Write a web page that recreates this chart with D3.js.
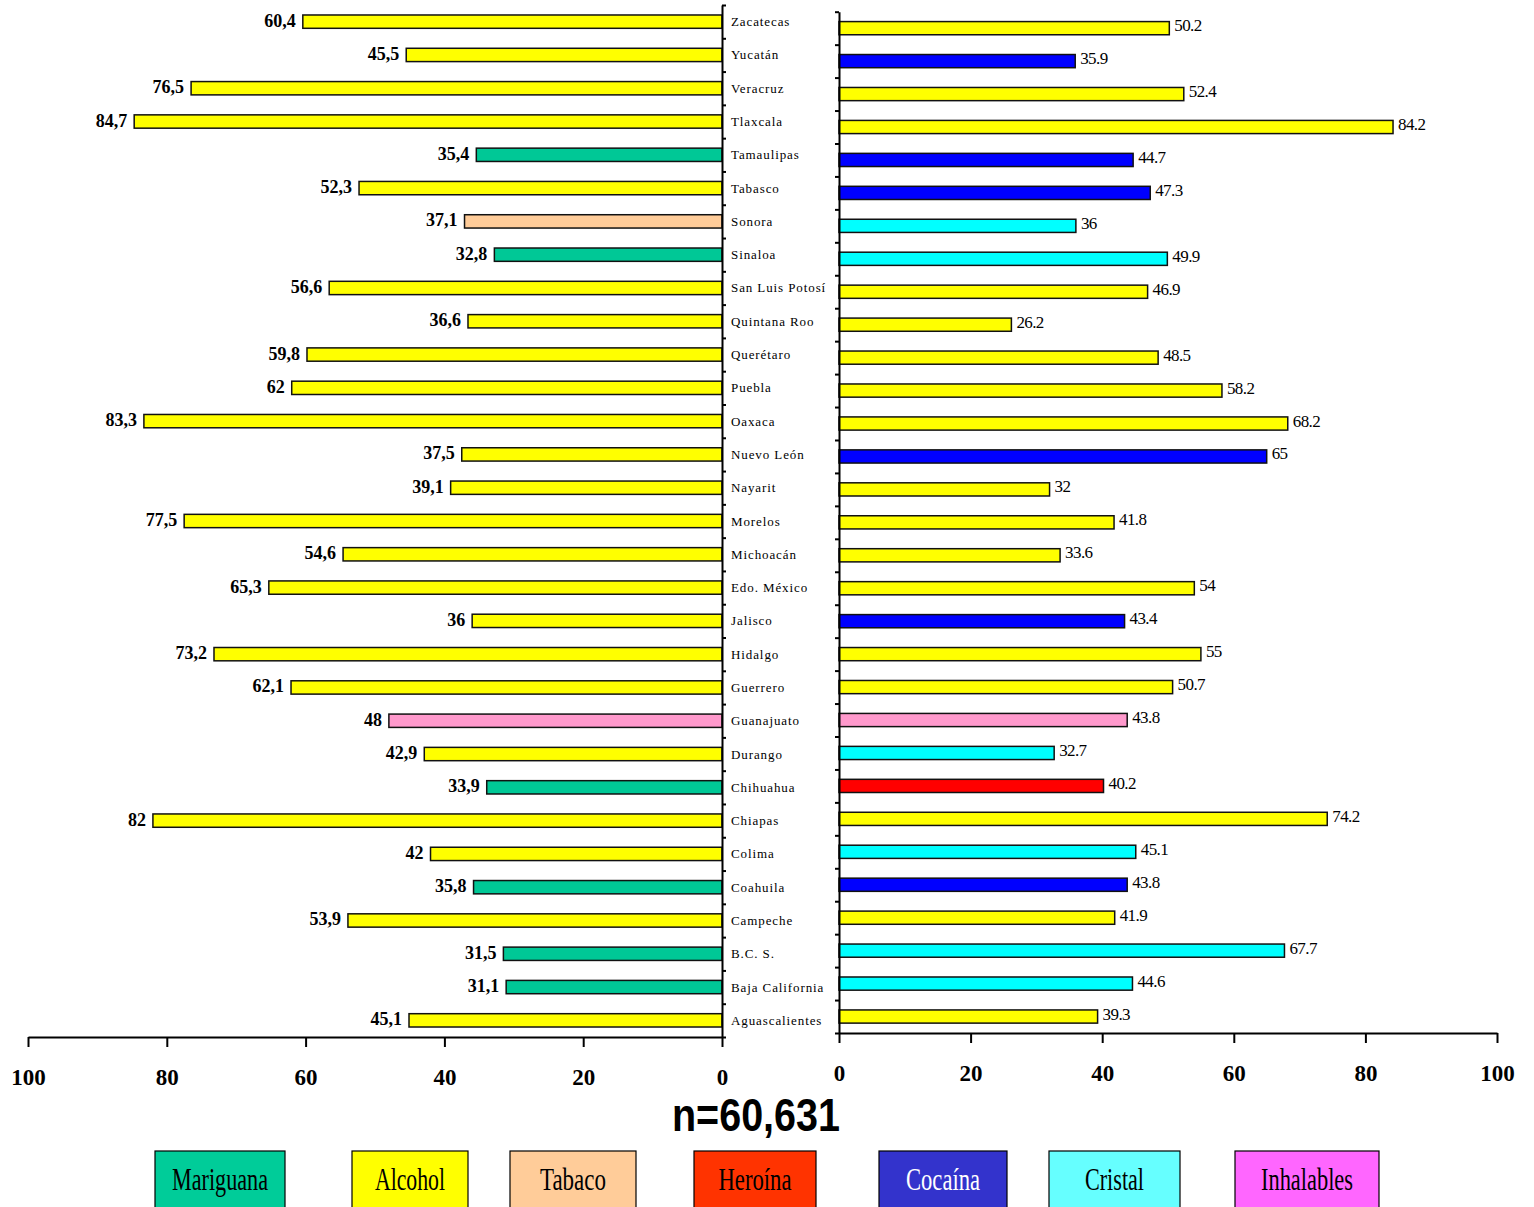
<!DOCTYPE html>
<html>
<head>
<meta charset="utf-8">
<script src="https://cdn.jsdelivr.net/npm/d3@7"></script>
<style>
  html, body { margin: 0; padding: 0; background: #fff; }
  svg { display: block; }
</style>
</head>
<body>
<svg id="chart" width="1534" height="1207"></svg>
<script>
// States, top to bottom
const states = ["Zacatecas", "Yucatán", "Veracruz", "Tlaxcala", "Tamaulipas", "Tabasco",
  "Sonora", "Sinaloa", "San Luis Potosí", "Quintana Roo", "Querétaro", "Puebla", "Oaxaca",
  "Nuevo León", "Nayarit", "Morelos", "Michoacán", "Edo. México", "Jalisco", "Hidalgo",
  "Guerrero", "Guanajuato", "Durango", "Chihuahua", "Chiapas", "Colima", "Coahuila",
  "Campeche", "B.C. S.", "Baja California", "Aguascalientes"];

// Left panel: percentage and substance
const leftValues = [60.4, 45.5, 76.5, 84.7, 35.4, 52.3, 37.1, 32.8, 56.6, 36.6, 59.8, 62, 83.3,
  37.5, 39.1, 77.5, 54.6, 65.3, 36, 73.2, 62.1, 48, 42.9, 33.9, 82, 42, 35.8, 53.9, 31.5, 31.1, 45.1];
const leftDrug = ["Alcohol", "Alcohol", "Alcohol", "Alcohol", "Mariguana", "Alcohol", "Tabaco",
  "Mariguana", "Alcohol", "Alcohol", "Alcohol", "Alcohol", "Alcohol", "Alcohol", "Alcohol",
  "Alcohol", "Alcohol", "Alcohol", "Alcohol", "Alcohol", "Alcohol", "Inhalables", "Alcohol",
  "Mariguana", "Alcohol", "Alcohol", "Mariguana", "Alcohol", "Mariguana", "Mariguana", "Alcohol"];

// Right panel: percentage and substance
const rightValues = [50.2, 35.9, 52.4, 84.2, 44.7, 47.3, 36, 49.9, 46.9, 26.2, 48.5, 58.2, 68.2,
  65, 32, 41.8, 33.6, 54, 43.4, 55, 50.7, 43.8, 32.7, 40.2, 74.2, 45.1, 43.8, 41.9, 67.7, 44.6, 39.3];
const rightDrug = ["Alcohol", "Cocaína", "Alcohol", "Alcohol", "Cocaína", "Cocaína", "Cristal",
  "Cristal", "Alcohol", "Alcohol", "Alcohol", "Alcohol", "Alcohol", "Cocaína", "Alcohol",
  "Alcohol", "Alcohol", "Alcohol", "Cocaína", "Alcohol", "Alcohol", "Inhalables", "Cristal",
  "Heroína", "Alcohol", "Cristal", "Cocaína", "Alcohol", "Cristal", "Cristal", "Alcohol"];

const axisTicks = [0, 20, 40, 60, 80, 100];

// Legend entries
const legendNames = ["Mariguana", "Alcohol", "Tabaco", "Heroína", "Cocaína", "Cristal", "Inhalables"];
const legendColors = ["#00CC99", "#FFFF00", "#FFCC99", "#FF3300", "#3333CC", "#66FFFF", "#FF66FF"];
const legendTextColors = ["#000", "#000", "#000", "#000", "#fff", "#000", "#000"];

const sampleLabel = "n=60,631";

// Bar fill colours by substance
const barColor = {
  "Alcohol": "#FFFF00", "Mariguana": "#00C896", "Tabaco": "#FFCC99", "Inhalables": "#FF99CC",
  "Cocaína": "#0000FF", "Cristal": "#00FFFF", "Heroína": "#FF0000"
};

const svg = d3.select("#chart");
const serif = "'Liberation Serif', 'Times New Roman', serif";

// ---------- scales ----------
const xL = d3.scaleLinear().domain([0, 100]).range([722, 28]);
const xR = d3.scaleLinear().domain([0, 100]).range([839, 1497]);
const yL = d3.scaleBand().domain(states).range([5, 1037]).paddingInner(0.6).paddingOuter(0.3);
const yR = d3.scaleBand().domain(states).range([11.7, 1033]).paddingInner(0.6).paddingOuter(0.3);
const boundL = d3.scaleLinear().domain([0, states.length]).range([5, 1037]);
const boundR = d3.scaleLinear().domain([0, states.length]).range([11.7, 1033]);

const rowsL = states.map((s, i) => ({ s, v: leftValues[i], d: leftDrug[i] }));
const rowsR = states.map((s, i) => ({ s, v: rightValues[i], d: rightDrug[i] }));

// ---------- left panel bars ----------
svg.append("g").selectAll("rect").data(rowsL).join("rect")
  .attr("x", d => xL(d.v))
  .attr("y", d => yL(d.s))
  .attr("width", d => xL(0) - xL(d.v))
  .attr("height", yL.bandwidth())
  .attr("fill", d => barColor[d.d])
  .attr("stroke", "#111").attr("stroke-width", 1.5);

svg.append("g").selectAll("text").data(rowsL).join("text")
  .attr("x", d => xL(d.v) - 7)
  .attr("y", d => yL(d.s) + yL.bandwidth() / 2 + 5)
  .attr("text-anchor", "end")
  .attr("font-family", serif).attr("font-weight", "bold").attr("font-size", 18)
  .text(d => String(d.v).replace(".", ","));

// ---------- right panel bars ----------
svg.append("g").selectAll("rect").data(rowsR).join("rect")
  .attr("x", xR(0))
  .attr("y", d => yR(d.s))
  .attr("width", d => xR(d.v) - xR(0))
  .attr("height", yR.bandwidth())
  .attr("fill", d => barColor[d.d])
  .attr("stroke", "#111").attr("stroke-width", 1.5);

svg.append("g").selectAll("text").data(rowsR).join("text")
  .attr("x", d => xR(d.v) + 5)
  .attr("y", d => yR(d.s) + yR.bandwidth() / 2 + 3)
  .attr("font-family", serif).attr("font-size", 17).attr("letter-spacing", -0.6)
  .text(d => String(d.v));

// ---------- state names ----------
svg.append("g").selectAll("text").data(states).join("text")
  .attr("x", 731)
  .attr("y", d => yL(d) + yL.bandwidth() / 2 + 4.5)
  .attr("font-family", serif).attr("font-size", 13).attr("letter-spacing", 0.9)
  .text(d => d);

// ---------- axes ----------
function styleAxis(g) {
  g.selectAll("path.domain").attr("stroke", "#000").attr("stroke-width", 2);
  g.selectAll(".tick line").attr("stroke", "#000").attr("stroke-width", 2);
}

// category boundary ticks
svg.append("g").attr("transform", "translate(722,0)")
  .call(d3.axisRight(boundL).tickValues(d3.range(states.length + 1)).tickSize(4).tickSizeOuter(0).tickFormat(""))
  .call(styleAxis);
svg.append("g").attr("transform", "translate(839,0)")
  .call(d3.axisLeft(boundR).tickValues(d3.range(states.length + 1)).tickSize(4).tickSizeOuter(0).tickFormat(""))
  .call(styleAxis);

// value axes
const axL = svg.append("g").attr("transform", "translate(0,1037)")
  .call(d3.axisBottom(xL).tickValues(axisTicks).tickSize(10).tickSizeOuter(0).tickPadding(22))
  .call(styleAxis);
const axR = svg.append("g").attr("transform", "translate(0,1033)")
  .call(d3.axisBottom(xR).tickValues(axisTicks).tickSize(10).tickSizeOuter(0).tickPadding(22))
  .call(styleAxis);
[axL, axR].forEach(a => a.selectAll(".tick text")
  .attr("font-family", serif).attr("font-weight", "bold").attr("font-size", 23).attr("fill", "#000"));

// ---------- sample size ----------
svg.append("text")
  .attr("x", 672).attr("y", 1131)
  .attr("font-family", "'Liberation Sans', Arial, sans-serif").attr("font-weight", "bold")
  .attr("font-size", 46)
  .attr("textLength", 168).attr("lengthAdjust", "spacingAndGlyphs")
  .text(sampleLabel);

// ---------- legend ----------
const legendBox = [[155, 285], [352, 468], [510, 636], [694, 816], [879, 1007], [1049, 1180], [1235, 1379]];
const legendTextW = [96, 70, 66, 73, 74, 59, 92];
const lg = svg.append("g").selectAll("g").data(legendNames).join("g");
lg.append("rect")
  .attr("x", (d, i) => legendBox[i][0]).attr("y", 1151)
  .attr("width", (d, i) => legendBox[i][1] - legendBox[i][0]).attr("height", 64)
  .attr("fill", (d, i) => legendColors[i])
  .attr("stroke", "#000").attr("stroke-width", 1.2);
lg.append("text")
  .attr("x", (d, i) => (legendBox[i][0] + legendBox[i][1]) / 2 - legendTextW[i] / 2)
  .attr("y", 1190)
  .attr("font-family", serif).attr("font-size", 31)
  .attr("fill", (d, i) => legendTextColors[i])
  .attr("textLength", (d, i) => legendTextW[i]).attr("lengthAdjust", "spacingAndGlyphs")
  .text(d => d);
</script>
</body>
</html>
